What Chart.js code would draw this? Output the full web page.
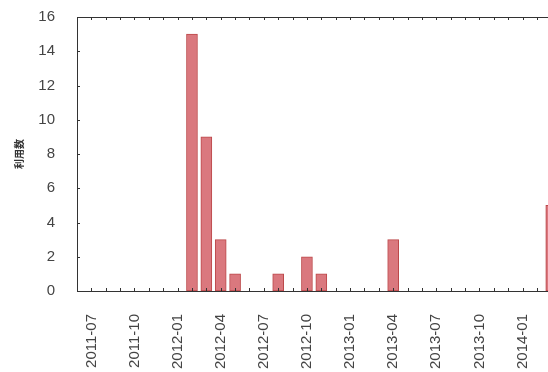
<!DOCTYPE html>
<html>
<head>
<meta charset="utf-8">
<script src="https://cdn.jsdelivr.net/npm/chart.js@4/dist/chart.umd.min.js"></script>
<style>
  html, body { margin: 0; padding: 0; background: #fff; }
  #wrap { width: 548px; height: 372px; overflow: hidden; }
</style>
</head>
<body>
<div id="wrap"><canvas id="usageChart" width="613" height="372"></canvas></div>
<script>
// months shown on the axis (2011-06 .. 2014-05)
var months = [
    '2011-06','2011-07','2011-08','2011-09','2011-10','2011-11','2011-12',
    '2012-01','2012-02','2012-03','2012-04','2012-05','2012-06','2012-07',
    '2012-08','2012-09','2012-10','2012-11','2012-12','2013-01','2013-02',
    '2013-03','2013-04','2013-05','2013-06','2013-07','2013-08','2013-09',
    '2013-10','2013-11','2013-12','2014-01','2014-02','2014-03','2014-04',
    '2014-05'
];
var counts = [
    0, 0, 0, 0, 0, 0, 0,
    0, 15, 9, 3, 1, 0, 0,
    1, 0, 2, 1, 0, 0, 0,
    0, 3, 0, 0, 0, 0, 0,
    0, 0, 0, 0, 0, 5, 0,
    0
];
var yTicks = [0, 2, 4, 6, 8, 10, 12, 14, 16];

// gnuplot style inward ticks + top border
const frameTicks = {
    id: 'frameTicks',
    afterDraw(chart) {
        const c = chart.ctx, a = chart.chartArea;
        const x = chart.scales.x, y = chart.scales.y;
        c.save();
        c.strokeStyle = '#333';
        c.lineWidth = 1;
        c.beginPath();
        c.moveTo(a.left, a.top + 0.5);
        c.lineTo(a.right, a.top + 0.5);
        x.ticks.forEach(function (t, i) {
            const px = Math.round(x.getPixelForTick(i)) + 0.5;
            c.moveTo(px, a.bottom);
            c.lineTo(px, a.bottom - 3);
            c.moveTo(px, a.top);
            c.lineTo(px, a.top + 3);
        });
        y.ticks.forEach(function (t, i) {
            const py = Math.round(y.getPixelForTick(i)) + 0.5;
            c.moveTo(a.left, py);
            c.lineTo(a.left + 3, py);
        });
        c.stroke();
        c.restore();
    }
};

const ctx = document.getElementById('usageChart').getContext('2d');
const usageChart = new Chart(ctx, {
    type: 'bar',
    data: {
        labels: months,
        datasets: [{
            label: '利用数',
            data: counts,
            backgroundColor: 'rgba(218, 120, 126, 1)',
            borderColor: 'rgba(188, 72, 74, 1)',
            borderWidth: 1,
            barThickness: 11,
            borderSkipped: false
        }]
    },
    options: {
        responsive: false,
        animation: false,
        layout: { padding: { top: 17, right: 6, left: 0, bottom: 0 } },
        plugins: {
            legend: { display: false },
            tooltip: { enabled: false }
        },
        scales: {
            x: {
                offset: false,
                grid: { display: false, offset: false },
                border: { display: true, color: '#333' },
                ticks: {
                    autoSkip: false,
                    minRotation: 90,
                    maxRotation: 90,
                    padding: 15,
                    color: '#444',
                    font: { family: 'Liberation Sans', size: 15 },
                    callback: function (v, i) {
                        const m = months[i].slice(5);
                        return (m === '01' || m === '04' || m === '07' || m === '10') ? months[i] : '';
                    }
                },
                afterFit: function (s) { s.height = 81; }
            },
            y: {
                min: 0,
                max: 16,
                grid: { display: false },
                border: { display: true, color: '#333' },
                afterBuildTicks: function (s) {
                    s.ticks = yTicks.map(function (v) { return { value: v }; });
                },
                ticks: {
                    padding: 14,
                    color: '#444',
                    font: { family: 'Liberation Sans', size: 15 }
                },
                title: {
                    display: true,
                    text: '利用数',
                    color: '#333',
                    padding: { top: 13, bottom: 0 },
                    font: { family: 'Noto Sans CJK JP', size: 10, weight: 'bold' }
                },
                afterFit: function (s) {
                    s.width = 77;
                    s.paddingTop = 0;
                    s.paddingBottom = 0;
                }
            }
        }
    },
    plugins: [frameTicks]
});
</script>
</body>
</html>
